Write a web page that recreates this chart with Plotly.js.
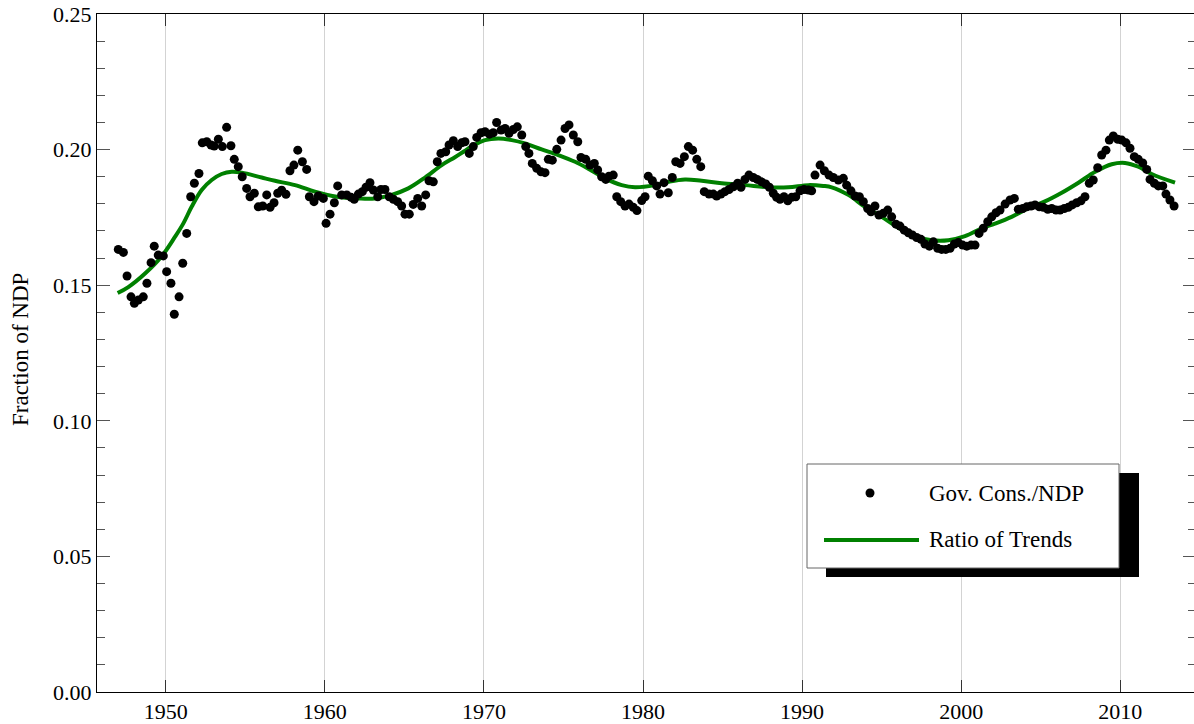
<!DOCTYPE html>
<html>
<head>
<meta charset="utf-8">
<script src="https://cdn.plot.ly/plotly-3.0.1.min.js"></script>
<style>
html,body{margin:0;padding:0;overflow:hidden;background:#fff;}
#chart{width:1196px;height:724px;}
</style>
</head>
<body>
<div id="chart"></div>
<script>
// ---- data ----
const govYears = [1947.02,1947.34,1947.57,1947.82,1948.03,1948.28,1948.59,1948.82,1949.08,1949.28,1949.53,1949.85,
1950.06,1950.33,1950.54,1950.84,1951.07,1951.32,1951.57,1951.80,1952.09,1952.30,1952.58,1952.85,1953.05,1953.31,1953.56,1953.83,
1954.10,1954.31,1954.56,1954.81,1955.09,1955.30,1955.57,1955.82,1956.10,1956.35,1956.56,1956.81,1957.04,1957.29,1957.56,1957.81,
1958.06,1958.30,1958.59,1958.86,1959.03,1959.32,1959.59,1959.91,1960.08,1960.33,1960.60,1960.81,1961.06,1961.38,1961.65,1961.85,
1962.11,1962.36,1962.59,1962.84,1963.05,1963.33,1963.53,1963.78,1964.05,1964.31,1964.58,1964.83,1965.04,1965.31,1965.56,1965.84,
1966.09,1966.34,1966.55,1966.82,1967.07,1967.30,1967.60,1967.81,1968.08,1968.35,1968.60,1968.81,1969.08,1969.33,1969.55,1969.82,
1970.07,1970.35,1970.59,1970.80,1971.08,1971.33,1971.58,1971.85,1972.10,1972.38,1972.63,1972.83,1973.04,1973.32,1973.59,1973.84,
1974.05,1974.30,1974.58,1974.85,1975.10,1975.35,1975.62,1975.90,1976.10,1976.40,1976.67,1976.94,1977.15,1977.40,1977.66,1977.86,
1978.13,1978.35,1978.60,1978.87,1979.12,1979.39,1979.62,1979.92,1980.13,1980.33,1980.59,1980.86,1981.07,1981.32,1981.59,1981.84,
1982.06,1982.33,1982.60,1982.85,1983.12,1983.38,1983.63,1983.85,1984.15,1984.42,1984.63,1984.90,1985.15,1985.41,1985.68,1985.95,
1986.16,1986.41,1986.66,1986.93,1987.18,1987.46,1987.71,1987.94,1988.19,1988.40,1988.61,1988.86,1989.10,1989.35,1989.60,1989.87,
1990.12,1990.39,1990.60,1990.81,1991.13,1991.40,1991.69,1991.96,1992.28,1992.59,1992.80,1993.07,1993.33,1993.60,1993.85,1994.12,
1994.33,1994.58,1994.83,1995.10,1995.38,1995.63,1995.90,1996.15,1996.42,1996.68,1996.93,1997.20,1997.47,1997.72,1998.00,1998.25,
1998.52,1998.77,1999.03,1999.30,1999.57,1999.82,2000.09,2000.35,2000.62,2000.87,2001.12,2001.39,2001.67,2001.92,2002.19,2002.44,
2002.76,2003.07,2003.34,2003.59,2003.87,2004.12,2004.39,2004.64,2004.91,2005.16,2005.44,2005.69,2005.96,2006.21,2006.48,2006.73,
2006.98,2007.26,2007.53,2007.78,2008.05,2008.30,2008.58,2008.83,2009.10,2009.31,2009.56,2009.84,2010.09,2010.36,2010.61,2010.88,
2011.13,2011.41,2011.66,2011.87,2012.14,2012.39,2012.67,2012.87,2013.12,2013.38];

const govRatio = [0.1632,0.1621,0.1534,0.1457,0.1433,0.1445,0.1457,0.1507,0.1583,0.1644,0.1611,0.1608,
0.1550,0.1507,0.1393,0.1457,0.1581,0.1691,0.1826,0.1876,0.1912,0.2025,0.2029,0.2017,0.2013,0.2038,0.2011,0.2082,
0.2014,0.1964,0.1937,0.1900,0.1857,0.1826,0.1839,0.1789,0.1792,0.1833,0.1787,0.1804,0.1839,0.1850,0.1835,0.1922,
0.1943,0.1998,0.1955,0.1927,0.1826,0.1808,0.1829,0.1820,0.1728,0.1762,0.1804,0.1866,0.1833,0.1833,0.1824,0.1817,
0.1836,0.1845,0.1861,0.1878,0.1851,0.1826,0.1853,0.1853,0.1826,0.1817,0.1808,0.1792,0.1762,0.1762,0.1798,0.1820,
0.1792,0.1833,0.1885,0.1881,0.1955,0.1986,0.1992,0.2017,0.2033,0.2011,0.2025,0.2029,0.1986,0.2011,0.2045,0.2062,
0.2066,0.2057,0.2062,0.2100,0.2072,0.2078,0.2060,0.2074,0.2084,0.2054,0.2011,0.1986,0.1949,0.1931,0.1918,0.1915,
0.1964,0.1961,0.2001,0.2035,0.2078,0.2091,0.2054,0.2029,0.1971,0.1964,0.1943,0.1949,0.1925,0.1900,0.1890,0.1902,
0.1906,0.1826,0.1808,0.1792,0.1799,0.1787,0.1775,0.1812,0.1826,0.1902,0.1885,0.1866,0.1836,0.1878,0.1841,0.1897,
0.1955,0.1949,0.1974,0.2011,0.1998,0.1964,0.1937,0.1845,0.1836,0.1836,0.1829,0.1836,0.1845,0.1853,0.1863,0.1876,
0.1861,0.1890,0.1906,0.1897,0.1890,0.1881,0.1873,0.1861,0.1839,0.1824,0.1817,0.1826,0.1811,0.1824,0.1826,0.1848,
0.1853,0.1851,0.1848,0.1906,0.1943,0.1922,0.1906,0.1897,0.1888,0.1894,0.1869,0.1848,0.1829,0.1826,0.1808,0.1783,
0.1771,0.1792,0.1759,0.1765,0.1777,0.1752,0.1725,0.1718,0.1703,0.1693,0.1685,0.1676,0.1669,0.1652,0.1644,0.1660,
0.1636,0.1632,0.1632,0.1636,0.1652,0.1657,0.1648,0.1644,0.1648,0.1648,0.1691,0.1710,0.1734,0.1752,0.1767,0.1777,
0.1799,0.1814,0.1820,0.1780,0.1783,0.1789,0.1792,0.1796,0.1789,0.1787,0.1780,0.1783,0.1777,0.1777,0.1783,0.1787,
0.1796,0.1804,0.1811,0.1826,0.1876,0.1888,0.1933,0.1980,0.1998,0.2035,0.2050,0.2038,0.2035,0.2025,0.2005,0.1974,
0.1964,0.1951,0.1927,0.1890,0.1876,0.1866,0.1866,0.1836,0.1814,0.1792];

const trendYears = [1946.98,1947.65,1948.70,1949.75,1950.58,1951.11,1951.63,1952.26,1952.89,1953.52,1954.15,1954.78,
1956.03,1956.87,1958.13,1959.38,1960.75,1962.11,1963.16,1964.20,1965.25,1966.30,1967.35,1968.18,1968.71,1969.23,
1970.07,1970.91,1971.75,1972.58,1973.63,1974.68,1975.73,1976.78,1977.61,1978.66,1979.50,1980.75,1981.59,1982.64,
1983.69,1984.95,1986.41,1987.88,1989.13,1990.39,1991.33,1991.86,1992.90,1993.95,1995.00,1996.05,1997.10,1998.15,
1999.19,2000.24,2001.29,2002.12,2003.17,2004.18,2005.23,2006.32,2007.37,2008.42,2009.46,2010.30,2011.13,2011.97,2013.44];

const trendRatio = [0.1471,0.1493,0.1543,0.1607,0.1678,0.1728,0.1789,0.1851,0.1888,0.1910,0.1918,0.1915,
0.1897,0.1885,0.1869,0.1845,0.1826,0.1820,0.1820,0.1833,0.1857,0.1897,0.1943,0.1972,0.1992,0.2011,
0.2035,0.2041,0.2035,0.2023,0.2001,0.1980,0.1955,0.1922,0.1894,0.1869,0.1861,0.1869,0.1881,0.1890,
0.1885,0.1876,0.1869,0.1861,0.1861,0.1869,0.1866,0.1861,0.1833,0.1789,0.1752,0.1712,0.1681,0.1666,
0.1666,0.1681,0.1710,0.1727,0.1752,0.1783,0.1808,0.1841,0.1878,0.1918,0.1946,0.1951,0.1937,0.1910,0.1878];

const xTickVals = [1950,1960,1970,1980,1990,2000,2010];
const yTickVals = [0,0.05,0.10,0.15,0.20,0.25];
const seriesNames = ["Gov. Cons./NDP","Ratio of Trends"];
const yTitle = "Fraction of NDP";

if (govYears.length !== govRatio.length) throw new Error("gov length mismatch " + govYears.length + " vs " + govRatio.length);
if (trendYears.length !== trendRatio.length) throw new Error("trend length mismatch");

// ---- layout geometry ----
const W = 1196, H = 724;
const M = {l: 97, r: 0, t: 14, b: 32};
const PW = W - M.l - M.r, PH = H - M.t - M.b;
const px = v => (v - M.l) / PW;          // page pixel -> paper x
const py = v => (H - M.b - v) / PH;      // page pixel -> paper y

const FONT = "Liberation Serif, Times New Roman, serif";
const GREEN = "#008000";

const traces = [
  {x: trendYears, y: trendRatio, type: "scatter", mode: "lines", name: seriesNames[1],
   line: {color: GREEN, width: 4, shape: "spline", smoothing: 1}, showlegend: false, hoverinfo: "skip"},
  {x: govYears, y: govRatio, type: "scatter", mode: "markers", name: seriesNames[0],
   marker: {color: "#000", size: 9, line: {width: 0}}, showlegend: false, hoverinfo: "skip"}
];

const shapes = [
  {type: "rect", xref: "paper", yref: "paper", x0: px(826), x1: px(1139), y0: py(577), y1: py(473),
   fillcolor: "#000", line: {width: 0}, layer: "above"},
  {type: "rect", xref: "paper", yref: "paper", x0: px(807), x1: px(1119), y0: py(568), y1: py(464),
   fillcolor: "#fff", line: {color: "#666", width: 1}, layer: "above"},
  {type: "line", xref: "paper", yref: "paper", x0: px(824), x1: px(919), y0: py(540), y1: py(540),
   line: {color: GREEN, width: 4}, layer: "above"},
  {type: "circle", xref: "paper", yref: "paper", x0: px(865.5), x1: px(874.5), y0: py(497.5), y1: py(488.5),
   fillcolor: "#000", line: {width: 0}, layer: "above"}
];

const annotations = [
  {text: seriesNames[0], xref: "paper", yref: "paper", x: px(927), y: py(493), xanchor: "left", yanchor: "middle",
   showarrow: false, font: {family: FONT, size: 23, color: "#000"}},
  {text: seriesNames[1], xref: "paper", yref: "paper", x: px(927), y: py(539), xanchor: "left", yanchor: "middle",
   showarrow: false, font: {family: FONT, size: 23, color: "#000"}},
  {text: yTitle, xref: "paper", yref: "paper", x: px(20), y: py(350), xanchor: "center", yanchor: "middle",
   textangle: -90, showarrow: false, font: {family: FONT, size: 23, color: "#000"}}
];

const layout = {
  width: W, height: H,
  margin: M,
  paper_bgcolor: "#fff", plot_bgcolor: "#fff",
  font: {family: FONT, size: 22, color: "#000"},
  showlegend: false,
  xaxis: {
    range: [1945.682, 2014.758], tickmode: "array", tickvals: xTickVals,
    ticks: "inside", ticklen: 12, tickwidth: 1, tickcolor: "#333",
    showline: true, linecolor: "#000", linewidth: 1, mirror: "ticks",
    showgrid: true, gridcolor: "#d3d3d3", gridwidth: 1, zeroline: false,
    tickfont: {family: FONT, size: 22, color: "#000"}
  },
  yaxis: {
    range: [0, 0.25], tickmode: "array", tickvals: yTickVals, tickformat: ".2f",
    ticks: "inside", ticklen: 13, tickwidth: 1, tickcolor: "#555",
    minor: {dtick: 0.01, ticks: "inside", ticklen: 8, tickwidth: 1, tickcolor: "#555", showgrid: false},
    showline: true, linecolor: "#000", linewidth: 1, mirror: "ticks",
    showgrid: false, zeroline: false,
    tickfont: {family: FONT, size: 22, color: "#000"}
  },
  shapes: shapes,
  annotations: annotations
};

Plotly.newPlot("chart", traces, layout, {staticPlot: true, displayModeBar: false});
</script>
</body>
</html>
